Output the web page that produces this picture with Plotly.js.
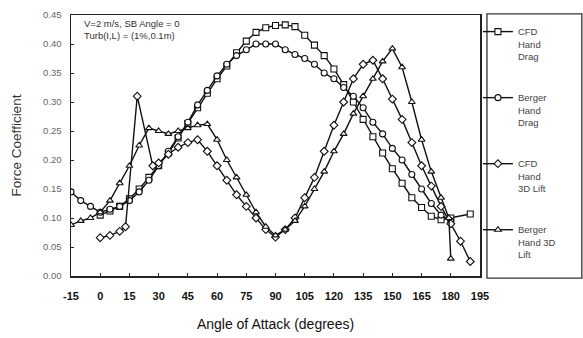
<!DOCTYPE html>
<html><head><meta charset="utf-8">
<script src="https://cdn.plot.ly/plotly-3.0.1.min.js"></script>
<style>body{margin:0;background:#fff}#c{width:583px;height:338px}</style>
</head><body><div id="c"></div>
<script>
// Angle of attack (degrees) and force coefficients
var cfdDragAngle = [0,5,10,15,20,25,30,35,40,45,50,55,60,65,70,75,80,85,90,95,100,105,110,115,120,125,130,135,140,145,150,155,160,165,170,175,180,190];
var cfdDrag      = [0.105,0.112,0.12,0.133,0.15,0.17,0.19,0.212,0.238,0.263,0.29,0.315,0.34,0.362,0.385,0.405,0.42,0.428,0.432,0.433,0.43,0.415,0.398,0.38,0.357,0.33,0.30,0.27,0.24,0.212,0.185,0.16,0.135,0.118,0.103,0.097,0.10,0.107];

var bergerDragAngle = [-15,-10,-5,0,5,10,15,20,25,30,35,40,45,50,55,60,65,70,75,80,85,90,95,100,105,110,115,120,125,130,135,140,145,150,155,160,165,170,175,180];
var bergerDrag      = [0.145,0.13,0.12,0.11,0.115,0.12,0.13,0.145,0.165,0.19,0.215,0.24,0.265,0.295,0.32,0.345,0.365,0.38,0.39,0.40,0.40,0.40,0.39,0.382,0.375,0.365,0.35,0.34,0.325,0.31,0.29,0.265,0.245,0.22,0.2,0.175,0.15,0.125,0.105,0.095];

var cfdLiftAngle = [0,5,10,13,19,27,30,35,40,45,50,55,60,65,70,75,80,85,90,95,100,105,110,115,120,125,130,135,140,145,150,155,160,165,170,175,180,185,190];
var cfdLift      = [0.066,0.07,0.077,0.085,0.31,0.19,0.195,0.21,0.222,0.23,0.235,0.215,0.19,0.165,0.14,0.12,0.10,0.08,0.067,0.08,0.10,0.135,0.17,0.215,0.26,0.30,0.34,0.365,0.372,0.34,0.305,0.27,0.23,0.19,0.155,0.12,0.09,0.06,0.025];

var bergerLiftAngle = [-15,-10,-5,0,5,10,15,20,25,30,35,40,45,50,55,60,65,70,75,80,85,90,95,100,105,110,115,120,125,130,135,140,145,150,155,160,165,170,175,179,180];
var bergerLift      = [0.088,0.095,0.10,0.11,0.13,0.16,0.19,0.225,0.255,0.25,0.245,0.25,0.255,0.26,0.262,0.235,0.2,0.17,0.14,0.11,0.085,0.07,0.08,0.095,0.12,0.15,0.18,0.215,0.245,0.28,0.31,0.34,0.37,0.392,0.36,0.30,0.235,0.18,0.135,0.10,0.03];

var xTicks = [-15,0,15,30,45,60,75,90,105,120,135,150,165,180,195];
var yTicks = [0,0.05,0.10,0.15,0.20,0.25,0.30,0.35,0.40,0.45];

function tr(x, y, name, sym, grp){
  return {x:x, y:y, name:name, type:'scatter', mode:'lines+markers', legendgroup:grp,
    line:{color:'#111', width:1.4},
    marker:{symbol:sym, size:6, color:'#fff', line:{color:'#111', width:1.1}}};
}
var data = [
  tr(cfdDragAngle, cfdDrag, 'CFD<br>Hand<br>Drag', 'square', 'a'),
  tr(bergerDragAngle, bergerDrag, 'Berger<br>Hand<br>Drag', 'circle', 'b'),
  tr(cfdLiftAngle, cfdLift, 'CFD<br>Hand<br>3D Lift', 'diamond', 'c'),
  tr(bergerLiftAngle, bergerLift, 'Berger<br>Hand 3D<br>Lift', 'triangle-up', 'd')
];
var layout = {
  width:583, height:338, margin:{l:71, r:103, t:15, b:62},
  paper_bgcolor:'#fff', plot_bgcolor:'#fff',
  font:{family:'Liberation Sans, Arial, sans-serif', color:'#222'},
  showlegend:true,
  legend:{x:0.995, y:0.985, xanchor:'left', yanchor:'top', valign:'top',
    font:{size:9.5, color:'#444'}, tracegroupgap:26, itemwidth:30, bgcolor:'rgba(0,0,0,0)'},
  xaxis:{range:[-15,195], tickvals:xTicks, ticktext:xTicks.map(String), showgrid:false, zeroline:false,
    showline:true, linecolor:'#222', linewidth:1.5, mirror:true, ticks:'inside', ticklen:3, tickcolor:'#222',
    tickfont:{size:11, color:'#111', family:'Liberation Sans, Arial, sans-serif', weight:'bold'}, ticklabelstandoff:9,
    title:{text:'Angle of Attack (degrees)', font:{size:14, color:'#111'}, standoff:18}},
  yaxis:{range:[0,0.45], tickvals:yTicks, tickformat:'.2f', showgrid:false, zeroline:false,
    showline:true, linecolor:'#222', linewidth:1.5, mirror:true, ticks:'inside', ticklen:3, tickcolor:'#222',
    tickfont:{size:9.5, color:'#666'}, ticklabelstandoff:6,
    title:{text:'Force Coefficient', font:{size:13.5, color:'#333'}, standoff:18}},
  shapes:[{type:'rect', xref:'paper', yref:'paper', x0:1.017, x1:1.249, y0:-0.008, y1:1.004,
    line:{color:'#333', width:1.3}, fillcolor:'rgba(0,0,0,0)'}],
  annotations:[
    {xref:'paper', yref:'paper', x:0.027, y:0.995, xanchor:'left', yanchor:'top', showarrow:false, align:'left',
     text:'V=2 m/s, SB Angle = 0<br>Turb(I,L) = (1%,0.1m)', font:{size:9.5, color:'#333'}}
  ]
};
Plotly.newPlot('c', data, layout, {displayModeBar:false, staticPlot:true});
</script></body></html>
